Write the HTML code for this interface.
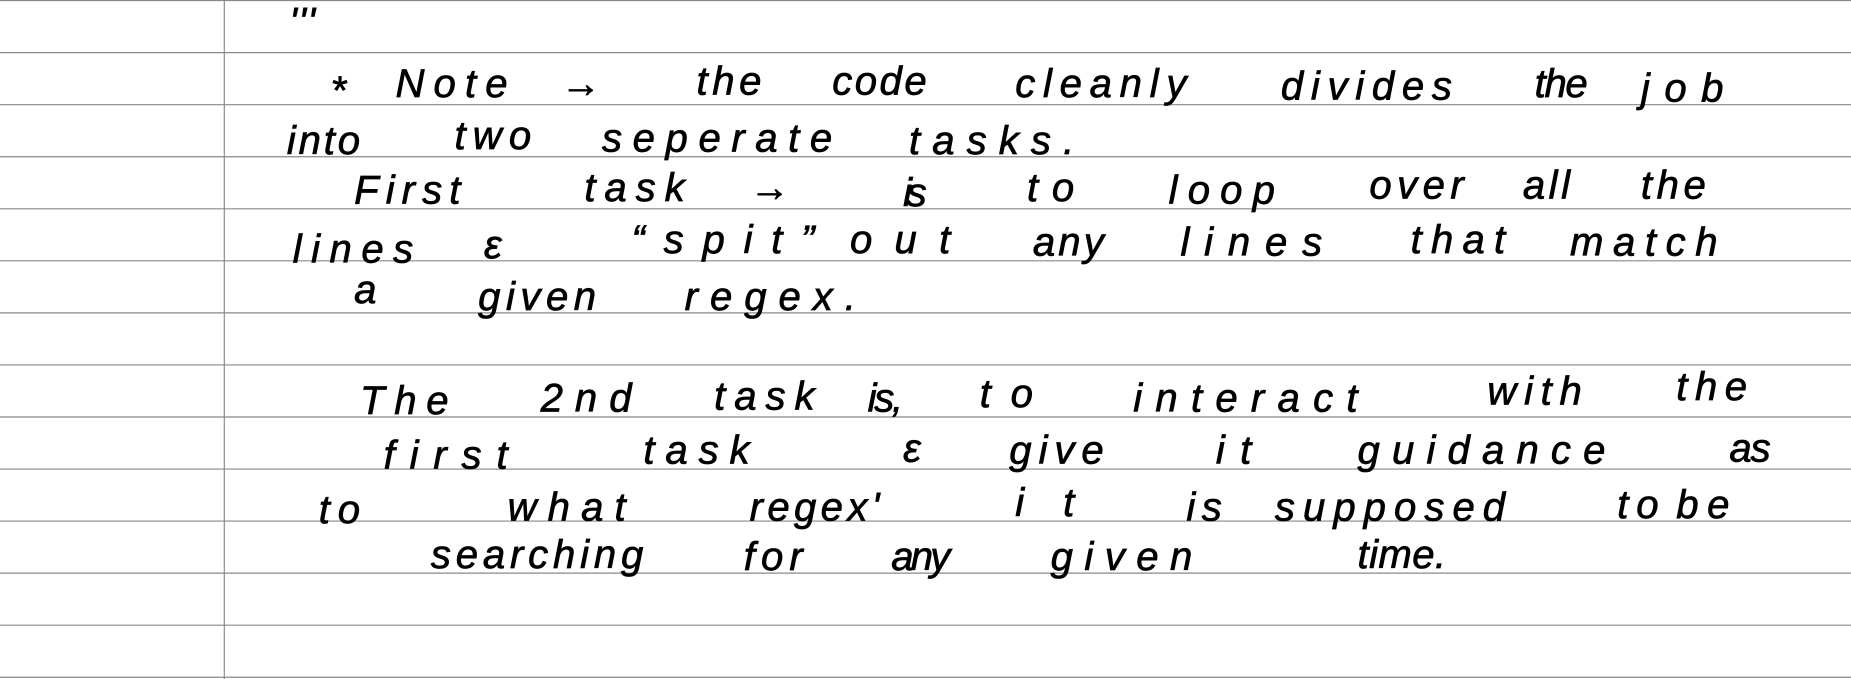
<!DOCTYPE html>
<html><head><meta charset="utf-8"><style>
html,body{margin:0;padding:0;background:#fff;width:1851px;height:679px;overflow:hidden}
svg{display:block}
text{font-family:"Liberation Sans",sans-serif;font-style:italic;font-size:34px;fill:#000;stroke:#000;stroke-width:0.6}
</style></head><body>
<svg width="1851" height="679" viewBox="0 0 1568 574" preserveAspectRatio="none">
<g id="rules" stroke="#888" stroke-width="1"></g>
<line x1="190" y1="0" x2="190" y2="574" stroke="#888" stroke-width="1"/>
<g id="words"></g>
</svg>
<script>
const ns="http://www.w3.org/2000/svg";
const rules=document.getElementById('rules');
for(let y=0.5;y<574;y+=44){
  const l=document.createElementNS(ns,'line');
  
  
  l.setAttribute('x1',0);l.setAttribute('x2',1568);l.setAttribute('y1',y);l.setAttribute('y2',y);
  rules.appendChild(l);
}
const words=[
["'''",245,30,22],
["*",280,88,18],["Note",335,82,95],["→",475,82,28],["the",590,80,55],["code",705,80,80],["cleanly",860,82,145],["divides",1085,84,145],["the",1300,82,45],["job",1390,86,70],
["into",243,130,62],["two",385,126,65],["seperate",510,128,195],["tasks.",770,130,140],
["First",300,172,90],["task",495,170,85],["→",635,170,28],["is",765,174,20],["to",870,170,40],["loop",990,172,90],["over",1160,168,80],["all",1290,168,40],["the",1390,168,55],
["lines",248,222,102],["ε",410,218,15],["“spit”",535,214,155],["out",720,214,85],["any",875,216,60],["lines",1000,216,120],["that",1195,214,80],["match",1330,216,125],
["a",300,256,25],["given",405,262,100],["regex.",580,262,145],
["The",305,350,75],["2nd",458,348,77],["task",605,346,85],["is,",735,348,30],["to",830,344,45],["interact",960,348,190],["with",1260,342,80],["the",1420,338,60],
["first",325,396,105],["task",545,392,90],["ε",765,390,15],["give",855,392,80],["it",1030,392,30],["guidance",1150,392,210],["as",1465,390,35],
["to",270,442,35],["what",430,440,100],["regex'",635,440,110],["it",860,436,50],["is",1005,440,30],["supposed",1080,440,195],["to",1370,438,35],["be",1420,438,45],
["searching",365,480,180],["for",630,482,50],["any",755,482,50],["given",890,482,120],["time.",1150,480,75]
];
const g=document.getElementById('words');
for(const [t,x,y,w] of words){
  const e=document.createElementNS(ns,'text');
  
  
  e.setAttribute('x',x);e.setAttribute('y',y);
  if(t.length>1){e.setAttribute('textLength',w);e.setAttribute('lengthAdjust','spacing');}
  e.textContent=t;
  g.appendChild(e);
}
</script>
</body></html>
